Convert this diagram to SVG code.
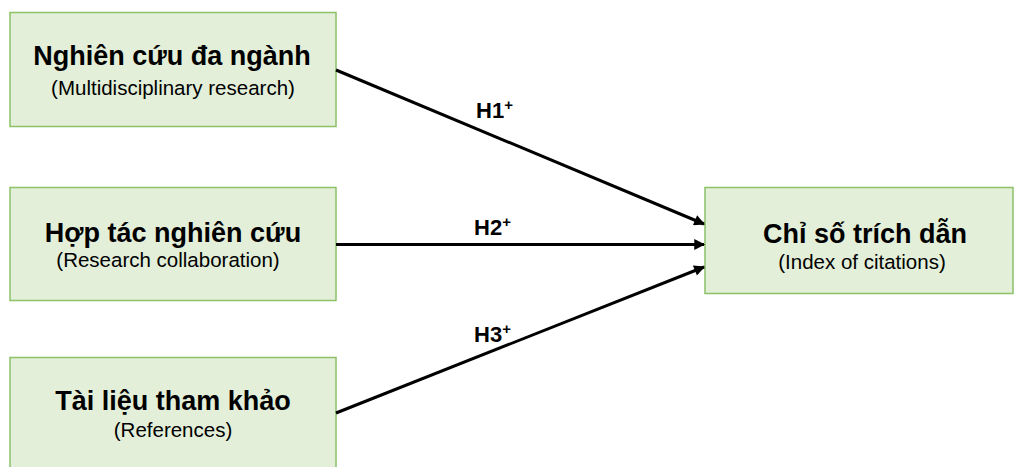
<svg xmlns="http://www.w3.org/2000/svg" width="1016" height="467" viewBox="0 0 1016 467">
<style>
.box{fill:#E3EFD9;stroke:#8CC168;stroke-width:1.5}
.t{font-family:"Liberation Sans",Arial,sans-serif;font-weight:bold;font-size:27px;fill:#000;text-anchor:middle}
.s{font-family:"Liberation Sans",Arial,sans-serif;font-size:20.5px;fill:#000;text-anchor:middle}
.h{font-family:"Liberation Sans",Arial,sans-serif;font-weight:bold;font-size:22px;fill:#000}
.c{stroke:#000;stroke-width:3;fill:none;marker-end:url(#ah)}
</style>
<defs>
<marker id="ah" viewBox="0 0 10 10" refX="9" refY="5" markerWidth="4" markerHeight="3.6" orient="auto" markerUnits="strokeWidth">
<path d="M0,0 L10,5 L0,10 z" fill="#000"/>
</marker>
</defs>
<rect width="1016" height="467" fill="#fff"/>
<g id="n1">
<rect class="box" x="10" y="12.5" width="326" height="114"/>
<text class="t" x="172" y="65">Nghiên cứu đa ngành</text>
<text class="s" x="173" y="95">(Multidisciplinary research)</text>
</g>
<g id="n2">
<rect class="box" x="10" y="187.5" width="326" height="113"/>
<text class="t" x="173" y="242">Hợp tác nghiên cứu</text>
<text class="s" x="168" y="267">(Research collaboration)</text>
</g>
<g id="n3">
<rect class="box" x="10" y="357.5" width="326" height="120"/>
<text class="t" x="173" y="410">Tài liệu tham khảo</text>
<text class="s" x="173" y="437">(References)</text>
</g>
<g id="n4">
<rect class="box" x="705" y="187.5" width="308" height="106"/>
<text class="t" x="865" y="243">Chỉ số trích dẫn</text>
<text class="s" x="862" y="269">(Index of citations)</text>
</g>
<g id="connectors">
<line class="c" x1="336" y1="70" x2="704" y2="224"/>
<line class="c" x1="336" y1="244.5" x2="704" y2="244.5"/>
<line class="c" x1="336" y1="413" x2="704" y2="267"/>
<text class="h" x="476" y="118">H1<tspan font-size="15" dy="-8">+</tspan></text>
<text class="h" x="474" y="235">H2<tspan font-size="15" dy="-8">+</tspan></text>
<text class="h" x="474" y="342">H3<tspan font-size="15" dy="-8">+</tspan></text>
</g>
</svg>
